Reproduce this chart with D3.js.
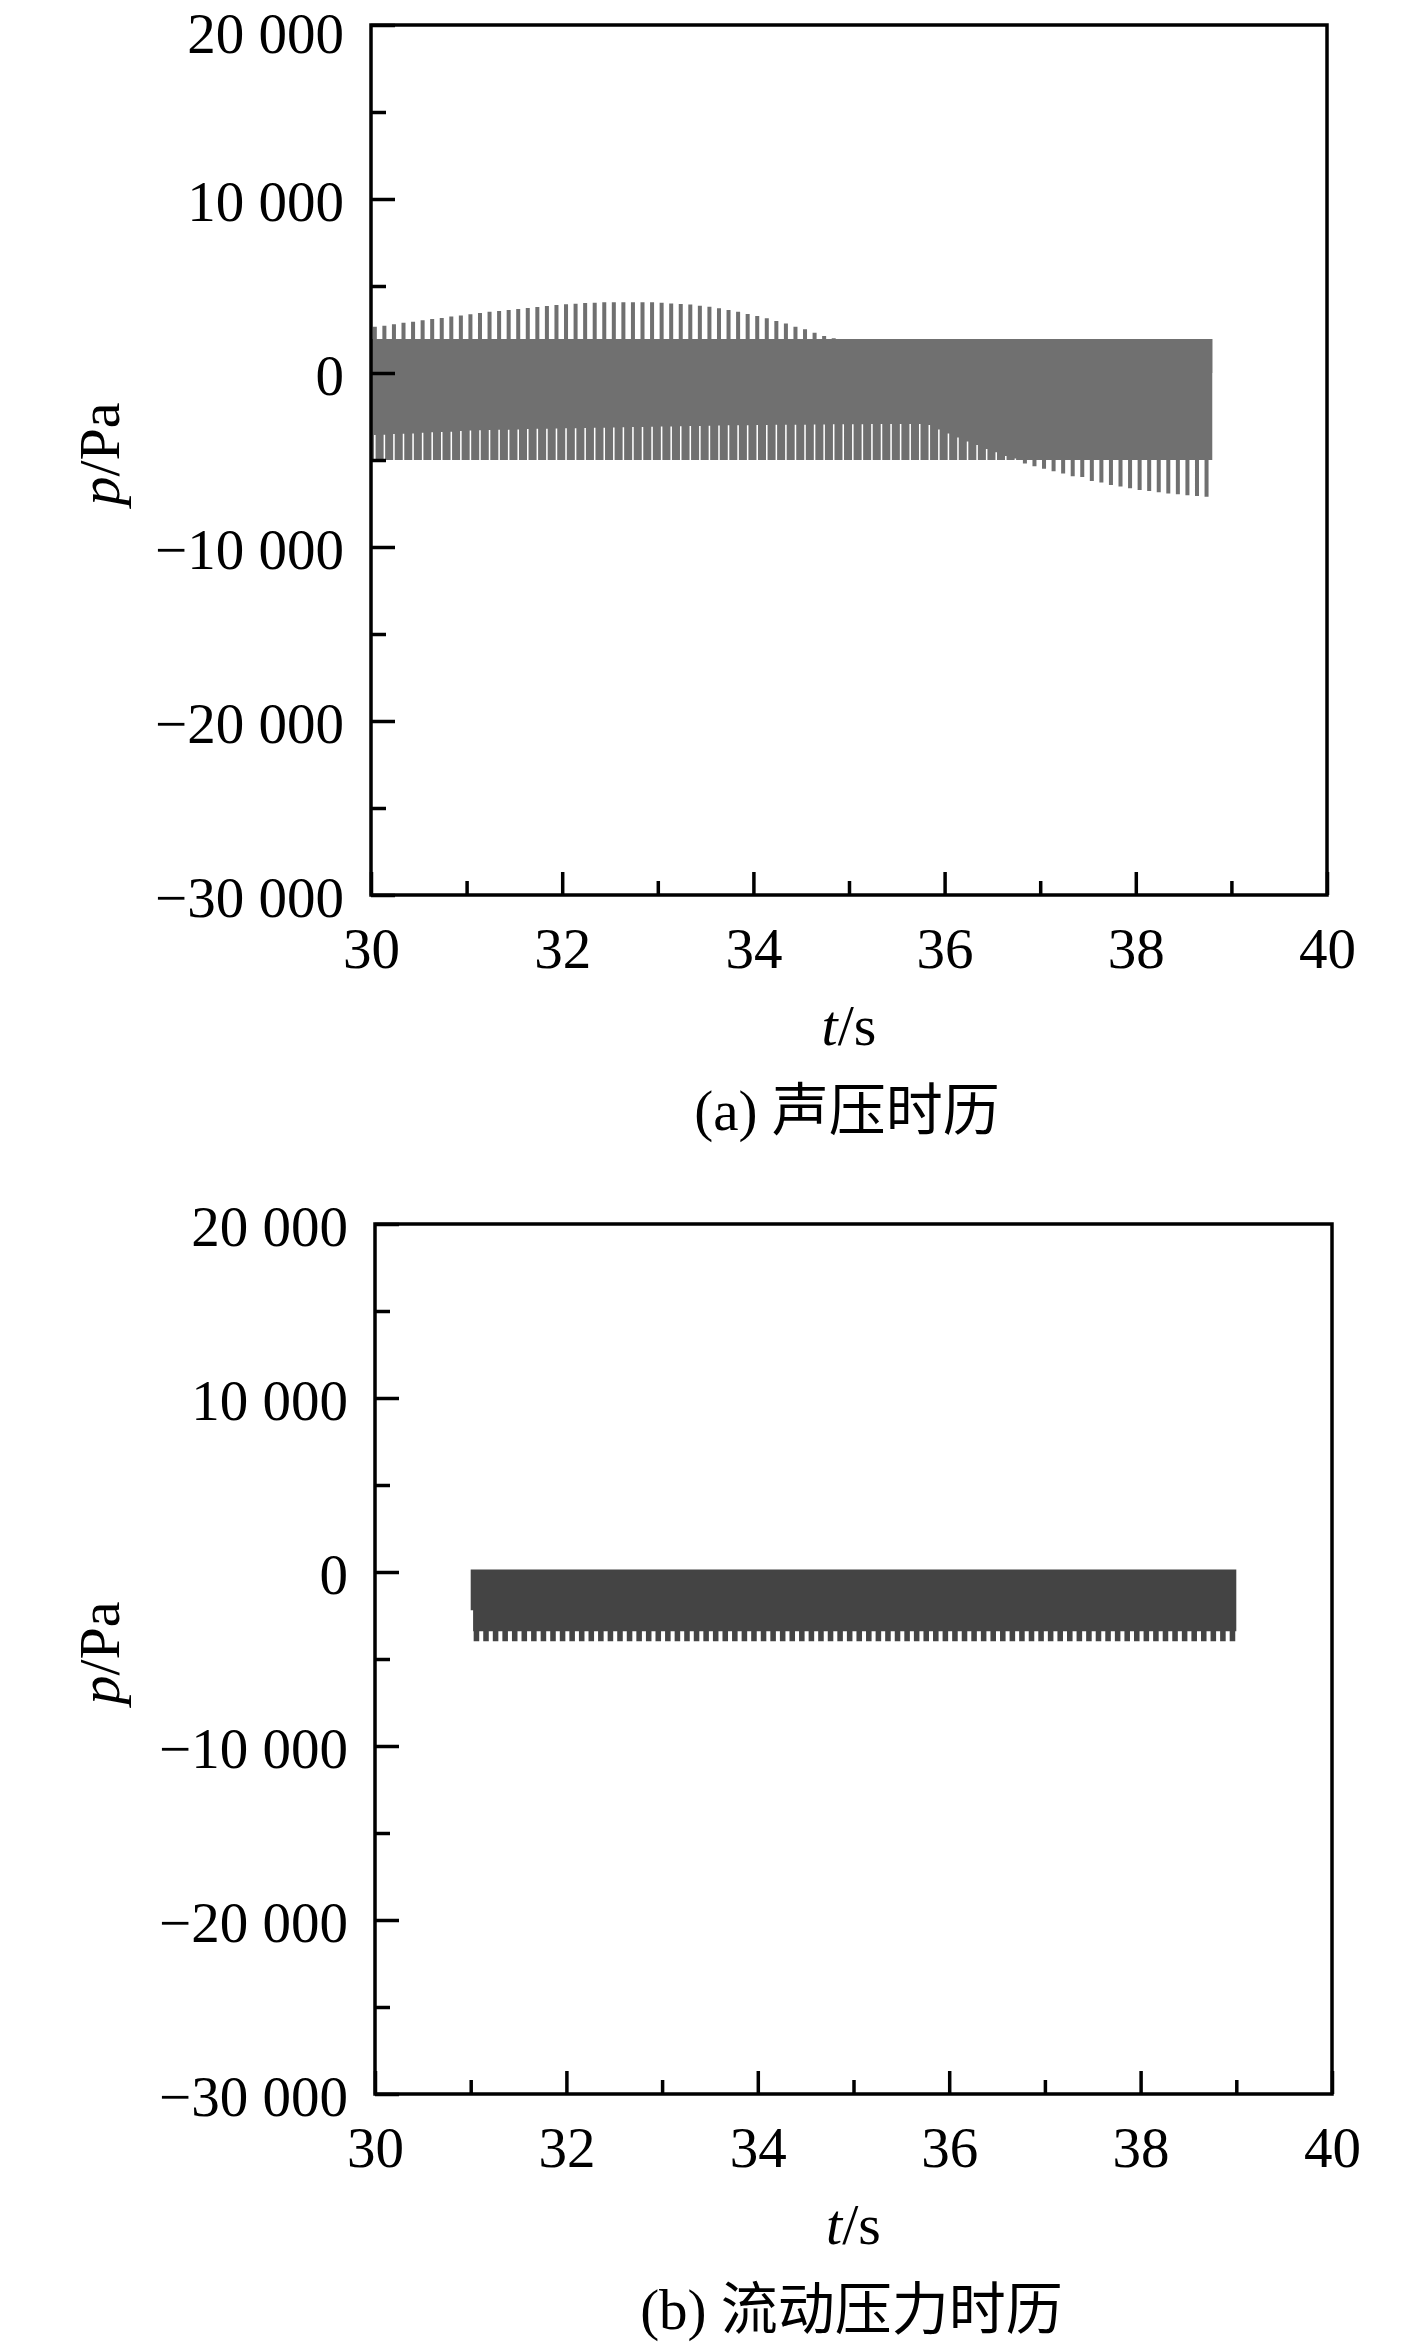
<!DOCTYPE html>
<html><head><meta charset="utf-8">
<script src="https://cdn.jsdelivr.net/npm/d3@7"></script>
<style>html,body{margin:0;padding:0;background:#fff;} svg{display:block;}</style>
</head><body>
<script>
// ---------- axis ticks ----------
const xTicksMajor = [30, 32, 34, 36, 38, 40];
const xTicksMinor = [31, 33, 35, 37, 39];
const yTicksMajor = [20000, 10000, 0, -10000, -20000, -30000];
const yTicksMinor = [15000, 5000, -5000, -15000, -25000];
const yTickLabels = ["20 000", "10 000", "0", "\u221210 000", "\u221220 000", "\u221230 000"];
const xDomain = [30, 40];
const yDomain = [-30000, 20000];

// ---------- panel (a): acoustic pressure, per-cycle readings (Pa) ----------
const aStartT = 30.0, aEndT = 38.8;
const aBandTop = 1950;      // upper edge of the dense band
const aBandBase = -5000;    // lower edge of the dense band
const aCycleT = [
  30.04,30.14,30.24,30.34,30.44,30.54,30.64,30.74,30.84,30.94,
  31.04,31.14,31.24,31.34,31.44,31.54,31.64,31.74,31.84,31.94,
  32.04,32.14,32.24,32.34,32.44,32.54,32.64,32.74,32.84,32.94,
  33.04,33.14,33.24,33.34,33.44,33.54,33.64,33.74,33.84,33.94,
  34.04,34.14,34.24,34.34,34.44,34.54,34.64,34.74,34.84,34.94,
  35.04,35.14,35.24,35.34,35.44,35.54,35.64,35.74,35.84,35.94,
  36.04,36.14,36.24,36.34,36.44,36.54,36.64,36.74,36.84,36.94,
  37.04,37.14,37.24,37.34,37.44,37.54,37.64,37.74,37.84,37.94,
  38.04,38.14,38.24,38.34,38.44,38.54,38.64,38.74
];
// peak of the upward spike in each cycle (null = no spike above band)
const aUpperPeak = [
  2660,2720,2800,2890,2950,3030,3100,3160,3240,3300,
  3370,3450,3520,3560,3620,3680,3730,3790,3850,3910,
  3950,3980,4020,4040,4060,4060,4060,4060,4060,4060,
  4040,4000,3960,3930,3870,3810,3720,3620,3520,3390,
  3280,3140,2990,2850,2660,2510,2310,2130,2000,null,
  null,null,null,null,null,null,null,null,null,null,
  null,null,null,null,null,null,null,null,null,null,
  null,null,null,null,null,null,null,null,null,null,
  null,null,null,null,null,null,null,null
];
// upper end of the brief lower-edge gap in each cycle (null = no gap)
const aGapTop = [
  -3560,-3550,-3510,-3490,-3470,-3430,-3410,-3390,-3370,-3330,
  -3310,-3290,-3280,-3260,-3260,-3240,-3220,-3210,-3200,-3190,
  -3180,-3170,-3160,-3150,-3140,-3130,-3120,-3110,-3100,-3090,
  -3080,-3070,-3060,-3050,-3040,-3030,-3020,-3010,-3000,-3000,
  -2990,-2990,-2980,-2980,-2970,-2970,-2960,-2960,-2950,-2950,
  -2940,-2940,-2930,-2930,-2930,-2930,-2930,-2930,-2990,-3240,
  -3470,-3700,-3930,-4140,-4370,-4560,-4770,-4920,null,null,
  null,null,null,null,null,null,null,null,null,null,
  null,null,null,null,null,null,null,null
];
// trough of the downward spike in each cycle (null = none below band)
const aLowerPeak = [
  null,null,null,null,null,null,null,null,null,null,
  null,null,null,null,null,null,null,null,null,null,
  null,null,null,null,null,null,null,null,null,null,
  null,null,null,null,null,null,null,null,null,null,
  null,null,null,null,null,null,null,null,null,null,
  null,null,null,null,null,null,null,null,null,null,
  null,null,null,null,null,null,null,null,-5200,-5360,
  -5500,-5650,-5780,-5940,-5980,-6200,-6300,-6430,-6530,-6630,
  -6720,-6780,-6860,-6920,-6970,-7020,-7070,-7110
];

// ---------- panel (b): flow pressure ----------
const bStartT = 31.0, bEndT = 39.0;
const bBandTop = 150;
const bBandBase = -3400;
const bStartStepEndT = 31.025, bStartStepLow = -2200;
const bToothT = [
  31.06,31.16,31.26,31.36,31.46,31.56,31.66,31.76,31.86,31.96,
  32.06,32.16,32.26,32.36,32.46,32.56,32.66,32.76,32.86,32.96,
  33.06,33.16,33.26,33.36,33.46,33.56,33.66,33.76,33.86,33.96,
  34.06,34.16,34.26,34.36,34.46,34.56,34.66,34.76,34.86,34.96,
  35.06,35.16,35.26,35.36,35.46,35.56,35.66,35.76,35.86,35.96,
  36.06,36.16,36.26,36.36,36.46,36.56,36.66,36.76,36.86,36.96,
  37.06,37.16,37.26,37.36,37.46,37.56,37.66,37.76,37.86,37.96,
  38.06,38.16,38.26,38.36,38.46,38.56,38.66,38.76,38.86,38.96
];
const bToothLow = [
  -3980,-3980,-3980,-3980,-3980,-3980,-3980,-3980,-3980,-3980,
  -3980,-3980,-3980,-3980,-3980,-3980,-3980,-3980,-3980,-3980,
  -3980,-3980,-3980,-3980,-3980,-3980,-3980,-3980,-3980,-3980,
  -3980,-3980,-3980,-3980,-3980,-3980,-3980,-3980,-3980,-3980,
  -3980,-3980,-3980,-3980,-3980,-3980,-3980,-3980,-3980,-3980,
  -3980,-3980,-3980,-3980,-3980,-3980,-3980,-3980,-3980,-3980,
  -3980,-3980,-3980,-3980,-3980,-3980,-3980,-3980,-3980,-3980,
  -3980,-3980,-3980,-3980,-3980,-3980,-3980,-3980,-3980,-3980
];

// ---------- layout / style ----------
const W = 1417, H = 2350;
const FONT = "'Liberation Serif','Times New Roman','Noto Sans CJK SC',serif";
const svg = d3.select("body").append("svg").attr("width", W).attr("height", H);
svg.append("rect").attr("width", W).attr("height", H).attr("fill", "#fff");

function drawPanel(cfg) {
  const x = d3.scaleLinear().domain(xDomain).range([cfg.left, cfg.right]);
  const y = d3.scaleLinear().domain(yDomain).range([cfg.bottom, cfg.top]);
  const g = svg.append("g");

  cfg.drawSignal(g, x, y);

  const style = sel => {
    sel.select(".domain").remove();
    sel.attr("font-family", FONT).attr("font-size", 57);
    sel.selectAll(".tick line").attr("stroke", "#000").attr("stroke-width", 3.5);
    sel.selectAll(".tick text").attr("fill", "#000");
  };
  // x axis
  g.append("g").attr("transform", `translate(0,${cfg.bottom})`)
    .call(d3.axisBottom(x).tickValues(xTicksMinor).tickSize(-14).tickFormat(""))
    .call(style);
  g.append("g").attr("transform", `translate(0,${cfg.bottom})`)
    .call(d3.axisBottom(x).tickValues(xTicksMajor).tickSize(-23).tickPadding(33).tickFormat(d3.format("d")))
    .call(style);
  // y axis
  g.append("g").attr("transform", `translate(${cfg.left},0)`)
    .call(d3.axisLeft(y).tickValues(yTicksMinor).tickSize(-15).tickFormat(""))
    .call(style);
  const ya = g.append("g").attr("transform", `translate(${cfg.left},0)`)
    .call(d3.axisLeft(y).tickValues(yTicksMajor).tickSize(-24).tickPadding(27)
      .tickFormat(d => yTickLabels[yTicksMajor.indexOf(d)]))
    .call(style);
  ya.selectAll(".tick text").attr("dy", "0.38em");
  // keep the topmost label fully inside the page
  ya.selectAll(".tick text").filter(d => y(d) + 0.38 * 57 - 0.9 * 57 < 0).attr("dy", "0.48em");

  // frame
  g.append("rect").attr("x", cfg.left).attr("y", cfg.top)
    .attr("width", cfg.right - cfg.left).attr("height", cfg.bottom - cfg.top)
    .attr("fill", "none").attr("stroke", "#000").attr("stroke-width", 3.5);

  // y title
  const cy = (cfg.top + cfg.bottom) / 2 - 6;
  const yt = g.append("text").attr("transform", `translate(99,${cy}) rotate(-90)`)
    .attr("text-anchor", "middle").attr("dominant-baseline", "central")
    .attr("font-family", FONT).attr("font-size", 58).attr("fill", "#000");
  yt.append("tspan").attr("font-style", "italic").text("p");
  yt.append("tspan").text("/Pa");

  // x title
  const cx = (cfg.left + cfg.right) / 2;
  const xt = g.append("text").attr("x", cx).attr("y", cfg.bottom + 150)
    .attr("text-anchor", "middle").attr("font-family", FONT).attr("font-size", 58).attr("fill", "#000");
  xt.append("tspan").attr("font-style", "italic").text("t");
  xt.append("tspan").text("/s");

  // caption
  g.append("text").attr("x", cx - 2).attr("y", cfg.bottom + 235)
    .attr("text-anchor", "middle").attr("font-family", FONT).attr("font-size", 57).attr("fill", "#000")
    .text(cfg.caption);
}

const stepArea = (x, y, base) => d3.area()
  .x(d => x(d.t)).y0(y(base)).y1(d => y(d.v)).curve(d3.curveStepAfter);

// panel (a)
drawPanel({
  left: 371, right: 1327, top: 25, bottom: 895,
  caption: "(a) 声压时历",
  drawSignal(g, x, y) {
    const wU = 0.042, wG = 0.016, wL = 0.042;
    const up = [{ t: aStartT, v: aBandTop }];
    aCycleT.forEach((tc, i) => {
      const p = aUpperPeak[i];
      if (p != null) up.push({ t: tc - wU / 2, v: p }, { t: tc + wU / 2, v: aBandTop });
    });
    up.push({ t: aEndT, v: aBandTop });
    const lo = [{ t: aStartT, v: aBandBase }];
    aCycleT.forEach((tc, i) => {
      const gTop = aGapTop[i], lp = aLowerPeak[i];
      if (gTop != null) lo.push({ t: tc - wG / 2, v: gTop }, { t: tc + wG / 2, v: aBandBase });
      if (lp != null) lo.push({ t: tc - wL / 2, v: lp }, { t: tc + wL / 2, v: aBandBase });
    });
    lo.push({ t: aEndT, v: aBandBase });
    g.append("path").datum(up).attr("d", stepArea(x, y, 0)).attr("fill", "#707070");
    g.append("path").datum(lo).attr("d", stepArea(x, y, aBandTop)).attr("fill", "#707070");
  }
});

// panel (b)
drawPanel({
  left: 375, right: 1332, top: 1224, bottom: 2094,
  caption: "(b) 流动压力时历",
  drawSignal(g, x, y) {
    const wT = 0.058;
    const lo = [{ t: bStartT, v: bStartStepLow }, { t: bStartStepEndT, v: bBandBase }];
    bToothT.forEach((tc, i) => {
      lo.push({ t: tc - wT / 2, v: bToothLow[i] }, { t: tc + wT / 2, v: bBandBase });
    });
    lo.push({ t: bEndT, v: bBandBase });
    g.append("path").datum(lo).attr("d", stepArea(x, y, bBandTop)).attr("fill", "#444444");
  }
});
</script>
</body></html>
